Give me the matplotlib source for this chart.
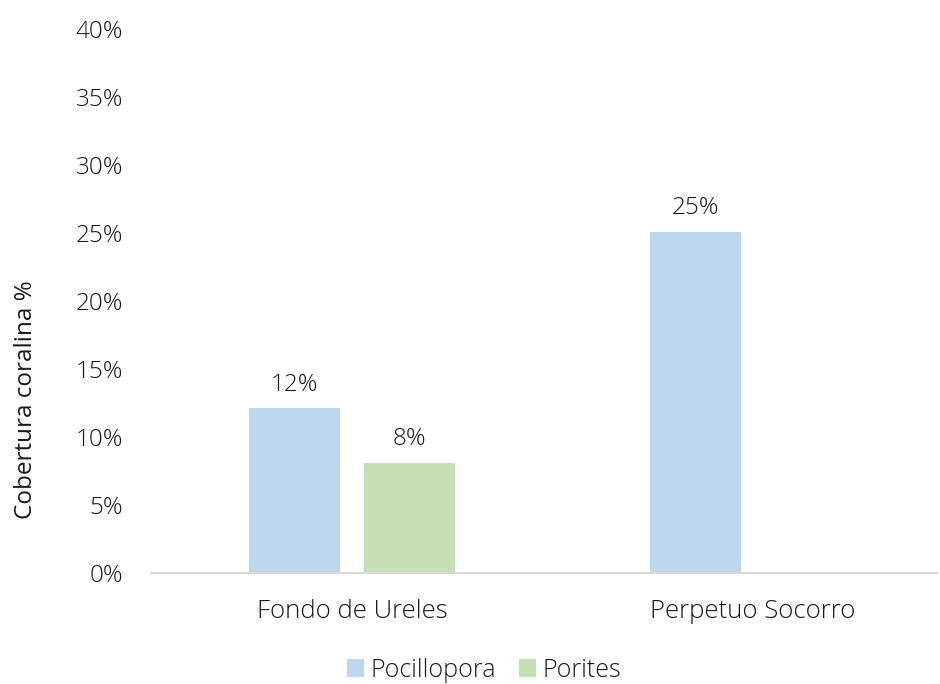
import numpy as np
import matplotlib.pyplot as plt
from matplotlib.ticker import PercentFormatter

sites = ['Fondo de Ureles', 'Perpetuo Socorro']
pocillopora = [12.1, 25.1]
porites = [8.1, 0.0]
series = ['Pocillopora', 'Porites']
colors = ['#BDD7EE', '#C5E0B4']

plt.rcParams['font.family'] = ['Open Sans', 'DejaVu Sans']
plt.rcParams['font.weight'] = 'light'

fig = plt.figure(figsize=(9.4, 6.84), dpi=100)
ax = fig.add_axes([0.1606, 0.1623, 0.8364, 0.7953])

x = np.arange(len(sites))
w = 0.227
off = 0.2855
b1 = ax.bar(x - off / 2, pocillopora, w, color=colors[0], label=series[0])
b2 = ax.bar(x + off / 2, porites, w, color=colors[1], label=series[1])

for bars, vals in [(b1, pocillopora), (b2, porites)]:
    for rect, v in zip(bars, vals):
        if v > 0:
            ax.annotate(f'{v:.0f}%', (rect.get_x() + rect.get_width() / 2, v),
                        xytext=(0, 17), textcoords='offset points',
                        ha='center', va='center', fontsize=17.5, color='#1a1a1a')

ax.set_xlim(-0.501, 1.459)
ax.set_ylim(0, 40)
ax.set_yticks(np.arange(0, 41, 5))
ax.yaxis.set_major_formatter(PercentFormatter(decimals=0))
ax.set_xticks(x)
ax.set_xticklabels(sites)
ax.tick_params(axis='both', length=0, colors='#1a1a1a')
ax.tick_params(axis='x', pad=19, labelsize=18.5)
ax.tick_params(axis='y', pad=20, labelsize=17.5)

for s in ['top', 'right', 'left']:
    ax.spines[s].set_visible(False)
ax.spines['bottom'].set_color('#D9D9D9')
ax.spines['bottom'].set_linewidth(1.5)

ax.set_ylabel('Cobertura coralina %', fontsize=17.5, color='#1a1a1a')
ax.yaxis.set_label_coords(-0.144, 0.318)

fig.legend(loc='center', bbox_to_anchor=(0.515, 0.02), ncol=2, frameon=False,
           fontsize=18, handlelength=0.7, handleheight=0.7, handletextpad=0.25,
           columnspacing=0.9, labelcolor='#1a1a1a')

fig.savefig('out.png', dpi=100)
